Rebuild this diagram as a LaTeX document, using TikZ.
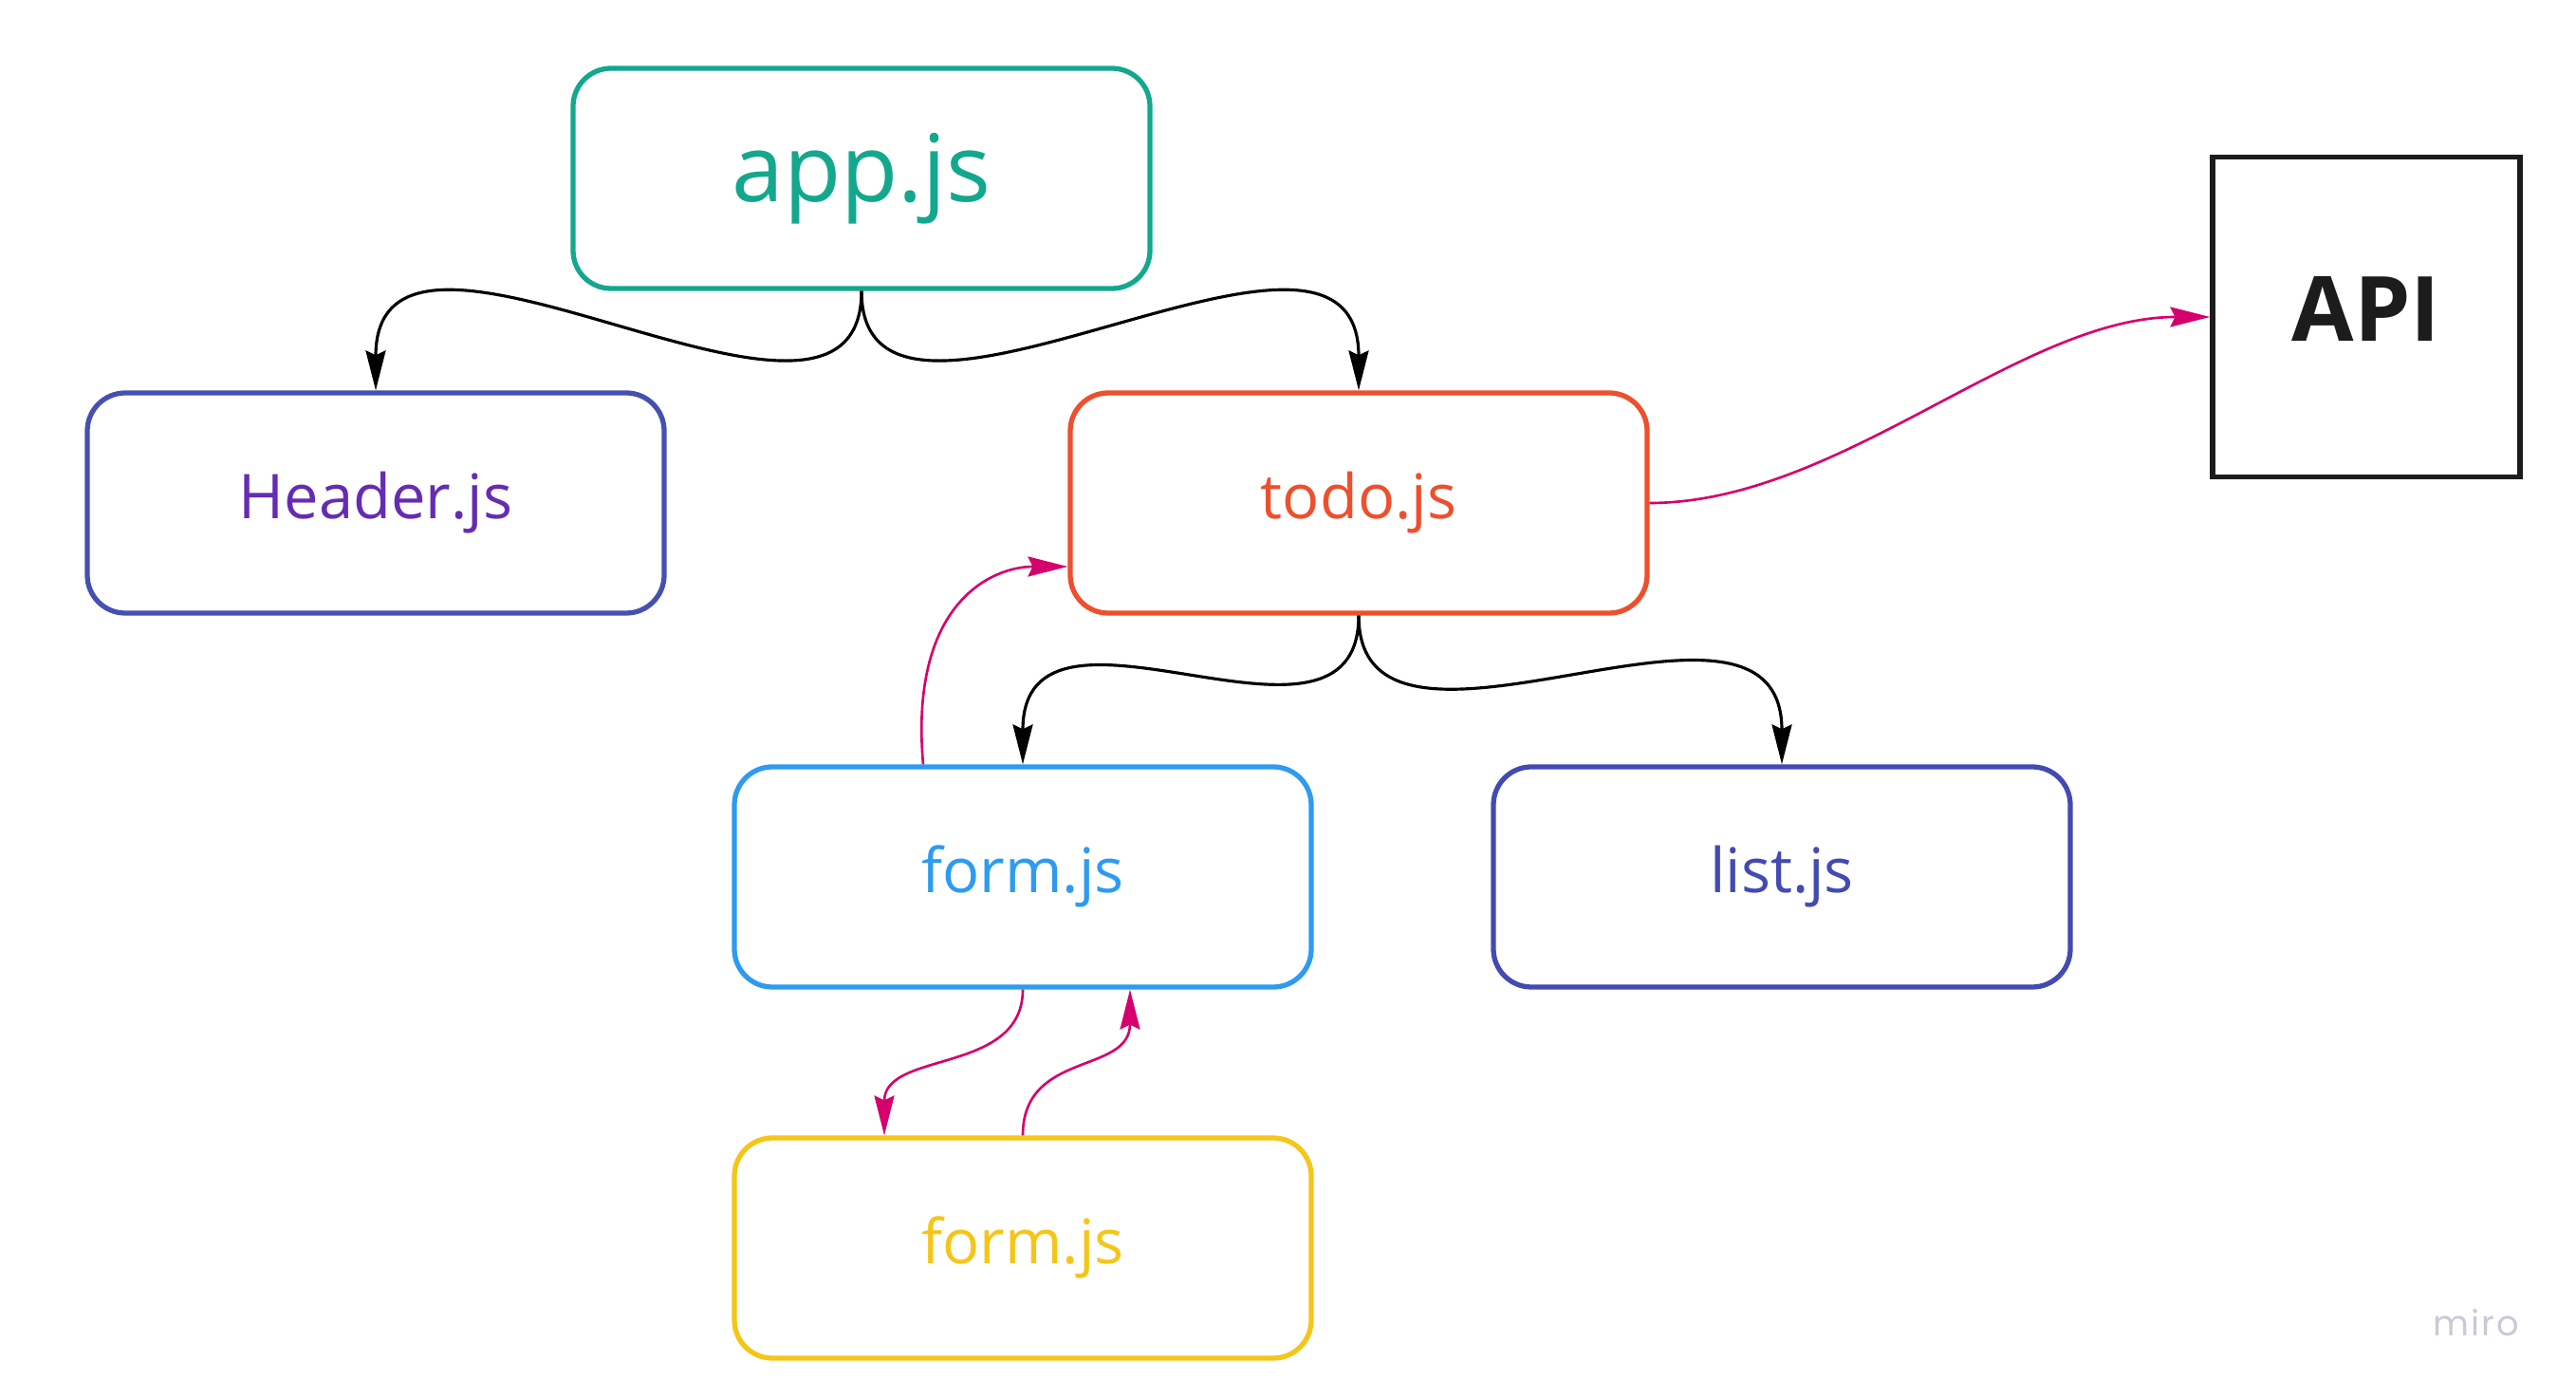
\documentclass[tikz,border=0pt]{standalone}
\usepackage{fontspec}
\setmainfont{Open Sans}
\newfontfamily\logofont[LetterSpace=6]{Poppins}
\usetikzlibrary{positioning,arrows.meta}
\definecolor{appgreen}{HTML}{13A88E}
\definecolor{headerblue}{HTML}{4650B2}
\definecolor{headerpurple}{HTML}{652CB3}
\definecolor{todored}{HTML}{EE4F2C}
\definecolor{formblue}{HTML}{2D9BF0}
\definecolor{listblue}{HTML}{434AB2}
\definecolor{formyellow}{HTML}{F5C518}
\definecolor{apiblack}{HTML}{1C1C1C}
\definecolor{reqpink}{HTML}{D5006C}
\definecolor{mirogray}{HTML}{C9CAD8}
\tikzset{file/.style={draw,rounded corners=0.4cm,line width=1.5pt,inner sep=0pt,
           minimum width=6.08cm,minimum height=2.32cm,
           text height=0.34cm,text depth=0pt,font=\fontsize{18.5}{20}\selectfont},
         api/.style={draw=apiblack,text=apiblack,line width=1.5pt,inner sep=0pt,
           minimum width=3.24cm,minimum height=3.37cm,
           text height=0.51cm,text depth=0pt,font=\bfseries\fontsize{27}{30}\selectfont},
         dep/.style={line width=0.9pt,-{Stealth[length=4.2mm,width=2.1mm,inset=0.5mm]}},
         req/.style={dep,draw=reqpink,line width=0.75pt}
         }

\begin{document}
\begin{tikzpicture}
      \useasboundingbox (0,0) rectangle (27.15,-14.73);
      \node[file,draw=appgreen,text=appgreen,font=\fontsize{28}{30}\selectfont,text height=0.5cm] (app) at (9.08,-1.88) {app.js};
      \node[file,draw=headerblue,text=headerpurple] (header) at (3.96,-5.30) {Header.js};
      \node[file,draw=todored,text=todored] (todo) at (14.32,-5.30) {todo.js};
      \node[file,draw=formblue,text=formblue] (form) at (10.78,-9.24) {form.js};
      \node[file,draw=listblue,text=listblue] (list) at (18.78,-9.24) {list.js};
      \node[file,draw=formyellow,text=formyellow] (subform) at (10.78,-13.15) {form.js};
      \node[api] (api) at (24.94,-3.34) {API};
      \node[text=mirogray,font=\logofont\fontsize{10.5}{12}\selectfont] (miro) at (26.10,-13.94) {miro};
      \draw[dep] (app.south) .. controls +(0,-2.2) and +(0,2.5) .. (header.north);
      \draw[dep] (app.south) .. controls +(0,-2.2) and +(0,2.5) .. (todo.north);
      \draw[dep] (todo.south) .. controls +(0,-1.8) and +(0,2.1) .. (form.north);
      \draw[dep] (todo.south) .. controls +(0,-2.0) and +(0,2.3) .. (list.north);
      \draw[req] (todo.east) .. controls +(2.0,0) and +(-2.0,0) .. (api.west);
      \draw[req] ([xshift=-1.05cm]form.north) .. controls +(-0.15,1.7) and +(-0.8,0) .. ([yshift=-0.67cm]todo.west);
      \draw[req] (form.south) .. controls +(0,-0.9) and +(0,0.9) .. ([xshift=-1.46cm]subform.north);
      \draw[req] (subform.north) .. controls +(0,0.9) and +(0,-0.9) .. ([xshift=1.13cm]form.south);
  \end{tikzpicture}
\end{document}
